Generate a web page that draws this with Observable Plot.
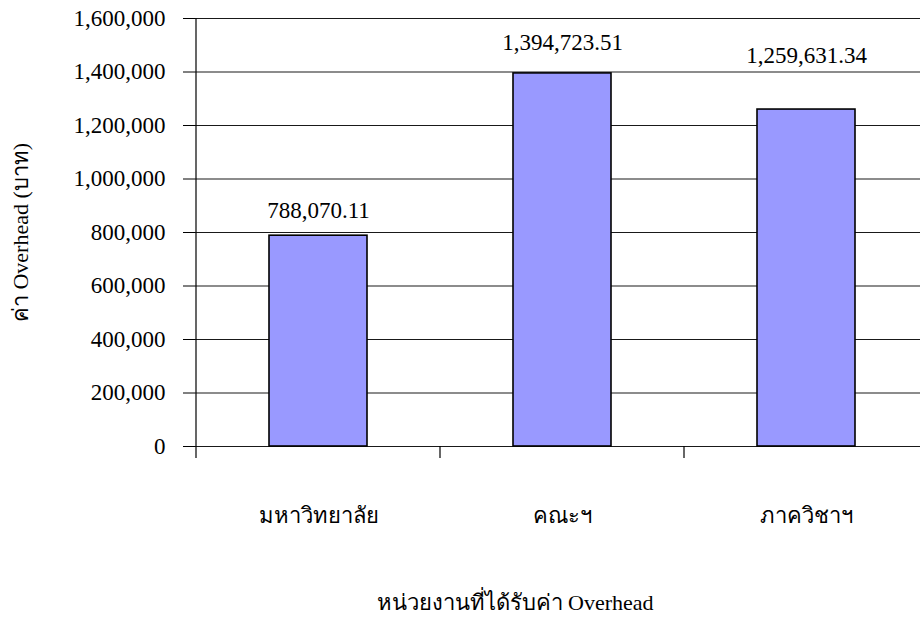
<!DOCTYPE html>
<html>
<head>
<meta charset="utf-8">
<script src="https://cdn.jsdelivr.net/npm/d3@7"></script>
<script src="https://cdn.jsdelivr.net/npm/@observablehq/plot@0.6"></script>
<style>
  html, body { margin: 0; padding: 0; background: #fff; }
</style>
</head>
<body>
<div id="chart"></div>
<script>
const categories = ["มหาวิทยาลัย", "คณะฯ", "ภาควิชาฯ"];
const overhead = [788070.11, 1394723.51, 1259631.34];
const yTicks = [0, 200000, 400000, 600000, 800000, 1000000, 1200000, 1400000, 1600000];
const yTitle = "ค่า Overhead (บาท)";
const xTitle = "หน่วยงานที่ได้รับค่า Overhead";

const data = categories.map((c, i) => ({category: c, value: overhead[i]}));
const labelDy = [-25, -31, -54];

const font = "'Liberation Serif', 'Times New Roman', serif";
const xRange = [195, 928];
const bandW = (xRange[1] - xRange[0]) / categories.length;

const axisMark = (index, scales) => {
  const g = d3.create("svg:g").attr("stroke", "black").attr("stroke-width", 1.2);
  const x = scales.x, y = scales.y;
  const y0 = y(0);
  const left = x(categories[0]);
  g.append("line").attr("x1", left).attr("x2", left).attr("y1", y(1600000)).attr("y2", y0 + 12);
  categories.forEach((c, i) => {
    if (i === 0) return;
    const e = x(c);
    g.append("line").attr("x1", e).attr("x2", e).attr("y1", y0).attr("y2", y0 + 12);
  });
  const last = x(categories[categories.length - 1]) + bandW;
  g.append("line").attr("x1", last).attr("x2", last).attr("y1", y0).attr("y2", y0 + 12);
  return g.node();
};

const valueLabels = data.map((d, i) =>
  Plot.text([d], {x: "category", y: "value", text: d => d3.format(",.2f")(d.value),
    dy: labelDy[i], fill: "black", fontSize: 23})
);

const chart = Plot.plot({
  width: 920,
  height: 618,
  marginLeft: 195,
  marginRight: 0,
  marginTop: 18,
  marginBottom: 172,
  style: {fontFamily: font, fontSize: "23px", background: "#fff", color: "#000"},
  x: {type: "band", domain: categories, range: xRange, padding: 0},
  y: {domain: [0, 1600000]},
  marks: [
    Plot.ruleY(yTicks, {stroke: "black", strokeWidth: 1, strokeOpacity: 0.9}),
    Plot.barY(data, {x: "category", y: "value", fill: "#9999FF", stroke: "black", strokeWidth: 1.6, insetLeft: 73, insetRight: 73}),
    ...valueLabels,
    Plot.axisY({ticks: yTicks, tickFormat: d3.format(","), tickSize: 12, tickPadding: 18, label: null, fontSize: 23}),
    Plot.axisX({tickSize: 0, tickPadding: 61, label: null, fontSize: 22}),
    axisMark,
    Plot.text([yTitle], {frameAnchor: "left", dx: -175, rotate: -90, textAnchor: "middle", fontSize: 22, fill: "black"}),
    Plot.text([xTitle], {frameAnchor: "bottom", dx: -43, dy: 163, textAnchor: "middle", fontSize: 22, fill: "black"})
  ]
});

document.getElementById("chart").appendChild(chart);
</script>
</body>
</html>
